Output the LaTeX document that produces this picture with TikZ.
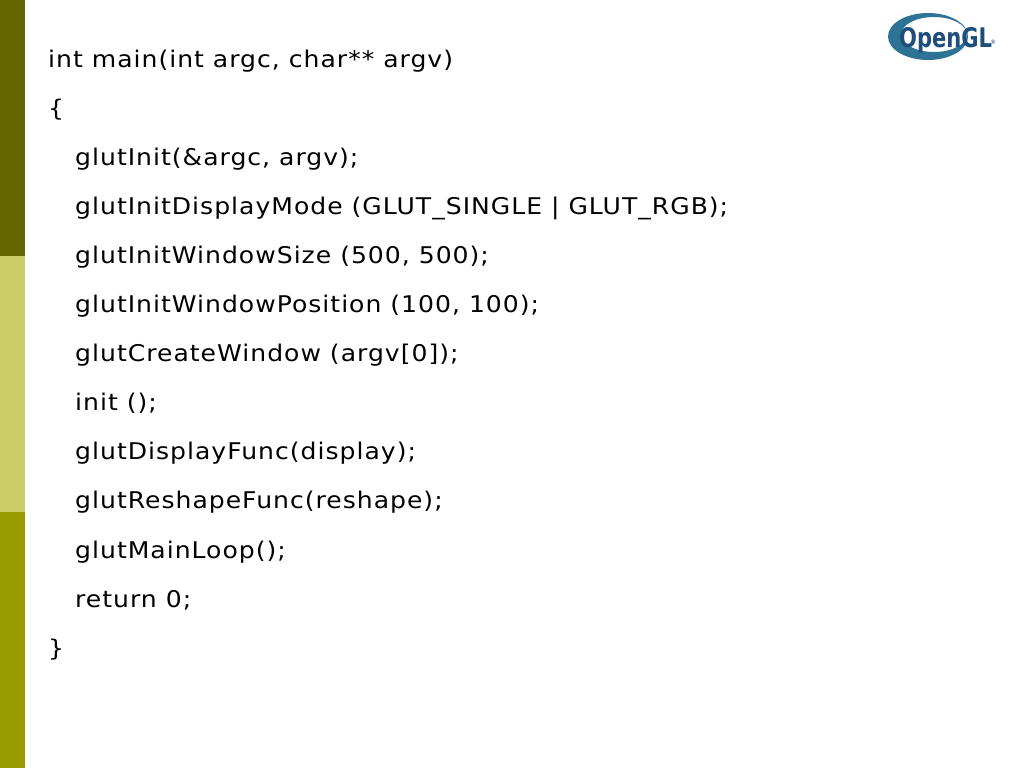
\documentclass[tikz,border=0pt]{standalone}
\usepackage{fontspec}
\setmainfont{DejaVu Sans}
\newfontfamily\codefont[LetterSpace=4]{DejaVu Sans}
\usetikzlibrary{calc}
\definecolor{barTop}{HTML}{666600}
\definecolor{barMid}{HTML}{CCCC66}
\definecolor{barLow}{HTML}{999900}
\definecolor{ringBlue}{HTML}{2D7396}
\definecolor{logoBlue}{HTML}{1F4E7C}
\def\BarW{25}
\def\Lx{48}
\def\Ix{75}
\def\Ly{67}
\def\Dy{49.1}

\begin{document}
\begin{tikzpicture}[x=1pt,y=-1pt,
  codeline/.style={anchor=base west,inner sep=0pt,xscale=1.09,font=\codefont\fontsize{23}{26}\selectfont}]
\useasboundingbox (0,0) rectangle (1024,768);
\fill[white] (0,0) rectangle (1024,768);

% left bar
\fill[barTop] (0,0) rectangle (\BarW,256);
\fill[barMid] (0,256) rectangle (\BarW,512);
\fill[barLow] (0,512) rectangle (\BarW,768);

% logo
\fill[ringBlue,even odd rule] (928,36.5) ellipse [x radius=40,y radius=23.5]
  (934,34.5) ellipse [x radius=33,y radius=17.5];
\node[inner sep=0pt,anchor=base west,xscale=0.78,text=logoBlue,font=\fontsize{27}{30}\selectfont\bfseries] (gl) at (899,47.5) {OpenGL};
\node[inner sep=0pt,anchor=base west,text=logoBlue,font=\fontsize{6}{7}\selectfont] (reg) at (990,45) {®};

% code
\node[codeline] (l0) at (\Lx, \Ly) {int main(int argc, char** argv)};
\node[codeline] (l1) at (\Lx, \Ly + \Dy) {\{};
\node[codeline] (l2) at (\Ix, \Ly + 2 * \Dy) {glutInit(\&argc, argv);};
\node[codeline] (l3) at (\Ix, \Ly + 3 * \Dy) {glutInitDisplayMode (GLUT\_SINGLE | GLUT\_RGB);};
\node[codeline] (l4) at (\Ix, \Ly + 4 * \Dy) {glutInitWindowSize (500, 500);};
\node[codeline] (l5) at (\Ix, \Ly + 5 * \Dy) {glutInitWindowPosition (100, 100);};
\node[codeline] (l6) at (\Ix, \Ly + 6 * \Dy) {glutCreateWindow (argv[0]);};
\node[codeline] (l7) at (\Ix, \Ly + 7 * \Dy) {init ();};
\node[codeline] (l8) at (\Ix, \Ly + 8 * \Dy) {glutDisplayFunc(display);};
\node[codeline] (l9) at (\Ix, \Ly + 9 * \Dy) {glutReshapeFunc(reshape);};
\node[codeline] (l10) at (\Ix, \Ly + 10 * \Dy) {glutMainLoop();};
\node[codeline] (l11) at (\Ix, \Ly + 11 * \Dy) {return 0;};
\node[codeline] (l12) at (\Lx, \Ly + 12 * \Dy) {\}};
\end{tikzpicture}
\end{document}
